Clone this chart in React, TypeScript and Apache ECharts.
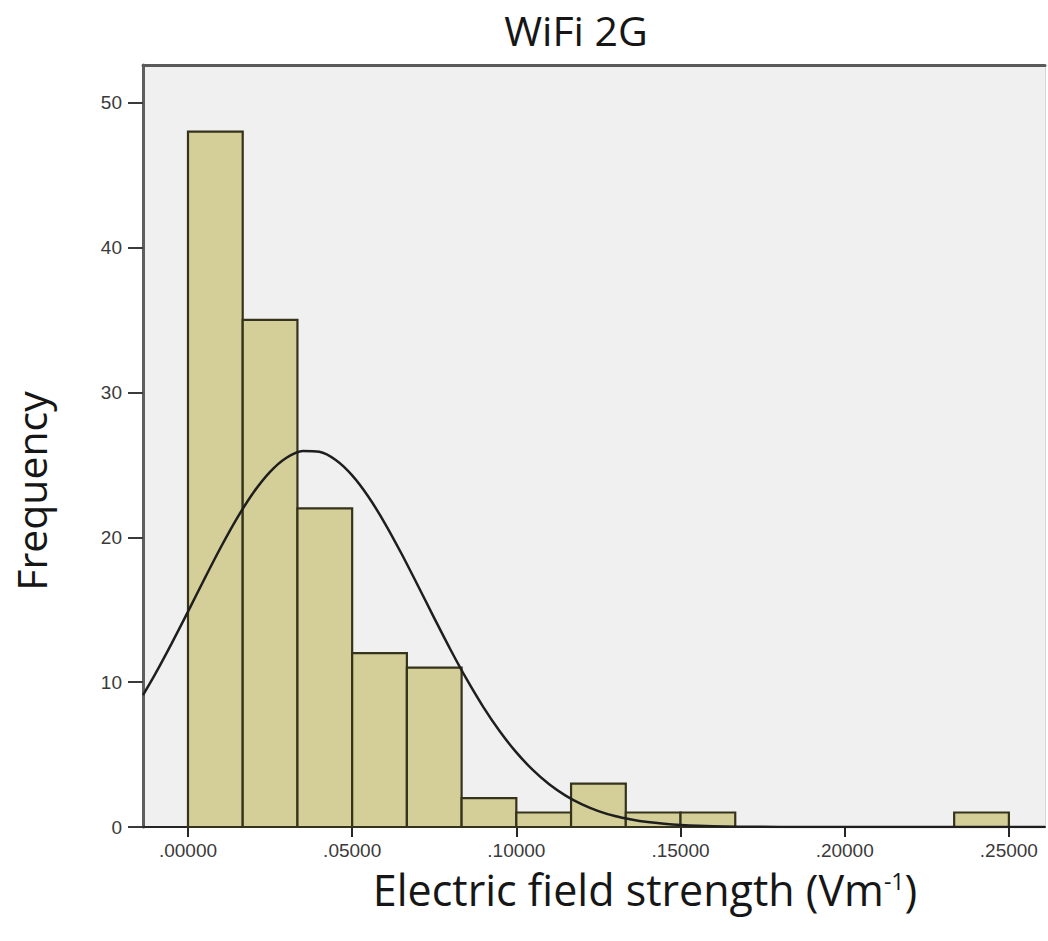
import React, { useEffect, useRef } from "react";
import * as echarts from "echarts";

// Histogram bins (lower / upper edges) and their frequencies
const binLow = [0, 0.016667, 0.033333, 0.05, 0.066667, 0.083333, 0.1, 0.116667, 0.133333, 0.15, 0.233333];
const binHigh = [0.016667, 0.033333, 0.05, 0.066667, 0.083333, 0.1, 0.116667, 0.133333, 0.15, 0.166667, 0.25];
const frequencies = [48, 35, 22, 12, 11, 2, 1, 3, 1, 1, 1];

// Fitted normal curve, sampled along the x axis
const curveX = [
  -0.0137, -0.01, -0.005, 0, 0.005, 0.01, 0.015, 0.02, 0.025, 0.03, 0.035, 0.04, 0.045, 0.05,
  0.055, 0.06, 0.065, 0.07, 0.075, 0.08, 0.085, 0.09, 0.095, 0.1, 0.105, 0.11, 0.115, 0.12,
  0.125, 0.13, 0.135, 0.14, 0.145, 0.15, 0.16, 0.17, 0.18, 0.2, 0.261,
];
const curveY = [
  9.1, 10.55, 12.66, 14.87, 17.12, 19.31, 21.34, 23.11, 24.52, 25.49, 25.96, 25.9, 25.33, 24.27,
  22.78, 20.95, 18.88, 16.67, 14.42, 12.22, 10.15, 8.26, 6.59, 5.15, 3.94, 2.95, 2.17, 1.56,
  1.1, 0.76, 0.52, 0.34, 0.22, 0.14, 0.05, 0.02, 0.005, 0, 0,
];

// Axis ticks
const xTicks = [0, 0.05, 0.1, 0.15, 0.2, 0.25];
const xTickLabels = [".00000", ".05000", ".10000", ".15000", ".20000", ".25000"];
const yTicks = [0, 10, 20, 30, 40, 50];

const X_MIN = -0.0137;
const X_MAX = 0.261;
const Y_MAX = 52.6;

export default function App() {
  const ref = useRef<HTMLDivElement>(null);

  useEffect(() => {
    if (!ref.current) return;
    const chart = echarts.init(ref.current, undefined, { renderer: "svg" });

    const barData = frequencies.map((n, i) => [binLow[i], binHigh[i], n]);
    const curveData = curveX.map((x, i) => [x, curveY[i]]);

    const tickFont = {
      fontFamily: '"Liberation Sans", Arial, sans-serif',
      fontSize: 19,
      color: "#3a3a3a",
    };

    chart.setOption({
      animation: false,
      backgroundColor: "#ffffff",
      grid: {
        left: 143,
        top: 65,
        right: 3,
        bottom: 114,
        show: true,
        backgroundColor: "#f0f0f0",
        borderWidth: 0,
      },
      xAxis: [
        {
          type: "value",
          min: X_MIN,
          max: X_MAX,
          position: "bottom",
          splitLine: { show: false },
          axisLine: { show: true, onZero: false, lineStyle: { color: "#262626", width: 2 } },
          axisTick: {
            show: true,
            customValues: xTicks,
            length: 10,
            lineStyle: { color: "#262626", width: 2 },
          },
          axisLabel: {
            ...tickFont,
            customValues: xTicks,
            margin: 14,
            lineHeight: 19,
            formatter: (v: number) => {
              const i = xTicks.findIndex((t) => Math.abs(t - v) < 1e-9);
              return i >= 0 ? xTickLabels[i] : "";
            },
          },
        },
        {
          type: "value",
          min: X_MIN,
          max: X_MAX,
          position: "top",
          splitLine: { show: false },
          axisLine: { show: true, onZero: false, lineStyle: { color: "#5a5a5a", width: 3 } },
          axisTick: { show: false },
          axisLabel: { show: false },
        },
      ],
      yAxis: [
        {
          type: "value",
          min: 0,
          max: Y_MAX,
          position: "left",
          splitLine: { show: false },
          axisLine: { show: true, onZero: false, lineStyle: { color: "#5e5e5e", width: 3 } },
          axisTick: {
            show: true,
            customValues: yTicks,
            length: 15,
            lineStyle: { color: "#3a3a3a", width: 2 },
          },
          axisLabel: { ...tickFont, customValues: yTicks, margin: 21 },
        },
        {
          type: "value",
          min: 0,
          max: Y_MAX,
          position: "right",
          splitLine: { show: false },
          axisLine: { show: true, onZero: false, lineStyle: { color: "#d6d6d6", width: 1 } },
          axisTick: { show: false },
          axisLabel: { show: false },
        },
      ],
      series: [
        {
          type: "custom",
          xAxisIndex: 0,
          yAxisIndex: 0,
          data: barData,
          encode: { x: [0, 1], y: 2 },
          renderItem: (_params: any, api: any) => {
            const lo = api.value(0);
            const hi = api.value(1);
            const n = api.value(2);
            const p0 = api.coord([lo, n]);
            const p1 = api.coord([hi, 0]);
            return {
              type: "rect",
              shape: { x: p0[0], y: p0[1], width: p1[0] - p0[0], height: p1[1] - p0[1] },
              style: { fill: "#d4cf98", stroke: "#35331b", lineWidth: 2.2 },
            };
          },
          z: 2,
        },
        {
          type: "line",
          xAxisIndex: 0,
          yAxisIndex: 0,
          data: curveData,
          smooth: 0.3,
          showSymbol: false,
          clip: true,
          lineStyle: { color: "#1e1e1e", width: 2.5 },
          z: 3,
        },
      ],
      graphic: [
        {
          type: "text",
          x: 576,
          y: 30,
          style: {
            text: "WiFi 2G",
            fontFamily: '"Open Sans", sans-serif',
            fontSize: 41,
            fill: "#161616",
            align: "center",
            verticalAlign: "middle",
          },
        },
        {
          type: "text",
          x: 645,
          y: 889,
          style: {
            text: "{a|Electric field strength (Vm}{s|-1}{a|)}",
            fill: "#161616",
            align: "center",
            verticalAlign: "middle",
            rich: {
              a: { fontFamily: '"Open Sans", sans-serif', fontSize: 43, lineHeight: 40, fill: "#161616" },
              s: {
                fontFamily: '"Open Sans", sans-serif',
                fontSize: 23,
                lineHeight: 22,
                verticalAlign: "top",
                padding: [0, 0, 0, 0],
                fill: "#161616",
              },
            },
          },
        },
        {
          type: "text",
          x: 31,
          y: 491,
          rotation: Math.PI / 2,
          style: {
            text: "Frequency",
            fontFamily: '"Open Sans", sans-serif',
            fontSize: 41,
            fill: "#161616",
            align: "center",
            verticalAlign: "middle",
          },
        },
      ],
    });

    return () => chart.dispose();
  }, []);

  return (
    <div
      ref={ref}
      style={{ position: "fixed", left: 0, top: 0, width: 1048, height: 941 }}
    />
  );
}
